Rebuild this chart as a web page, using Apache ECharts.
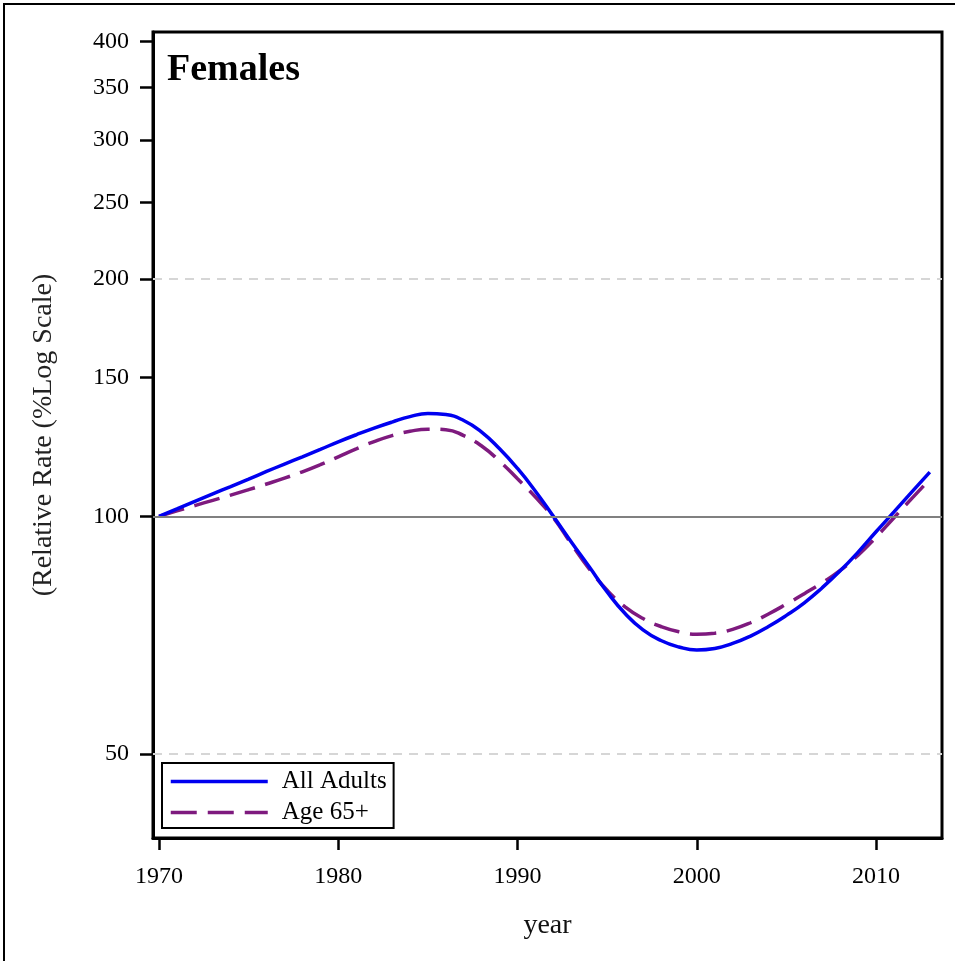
<!DOCTYPE html>
<html>
<head>
<meta charset="utf-8">
<script src="https://cdn.jsdelivr.net/npm/echarts@6/dist/echarts.min.js"></script>
<style>
html,body{margin:0;padding:0;background:#fff;}
#chart{width:955px;height:961px;}
</style>
</head>
<body>
<div id="chart"></div>
<script>
const years = [1970,1971,1972,1973,1974,1975,1976,1977,1978,1979,1980,1981,1982,1983,1984,1985,1986,1987,1988,1989,1990,1991,1992,1993,1994,1995,1996,1997,1998,1999,2000,2001,2002,2003,2004,2005,2006,2007,2008,2009,2010,2011,2012,2013];
const allAdults = [100,102.2,104.5,106.8,109.1,111.5,114.0,116.5,119.0,121.6,124.3,126.9,129.4,131.7,133.8,135.0,134.6,132.3,127.9,121.8,115.0,107.6,100.0,92.8,86.3,80.2,75.3,71.8,69.6,68.3,67.7,68.0,69.0,70.5,72.5,74.9,77.7,81.2,85.3,90.1,95.6,101.3,107.4,113.8];
const age65 = [100,101.6,103.2,104.8,106.4,108.1,109.9,111.8,113.9,116.3,119.0,121.8,124.4,126.6,128.2,129.0,128.8,126.6,122.8,117.5,111.6,105.8,99.6,92.3,85.8,80.6,76.8,74.2,72.5,71.4,70.9,71.1,71.9,73.3,75.2,77.4,79.8,82.4,85.4,89.3,94.1,99.6,105.4,111.4];
const xTicks = [1970,1980,1990,2000,2010];
const yTicks = [50,100,150,200,250,300,350,400];
const refSolid = [100];
const refDashed = [50,200];

const FONT = "'Liberation Serif','Times New Roman',serif";
const chart = echarts.init(document.getElementById('chart'));
chart.setOption({
  animation:false,
  backgroundColor:'#fff',
  graphic:[{type:'rect',shape:{x:4,y:4,width:970,height:980},style:{fill:'none',stroke:'#000',lineWidth:2},silent:true,z:100}],
  title:{text:'Females',left:167,top:51,padding:0,textStyle:{fontFamily:FONT,fontSize:38,fontWeight:'bold',color:'#000'}},
  grid:{left:153,right:13,top:32,bottom:123,show:true,borderColor:'#000',borderWidth:3,backgroundColor:'transparent'},
  legend:{orient:'vertical',left:162,top:763,padding:[6,7,3,7],itemGap:6,itemWidth:97,itemHeight:24,
    borderColor:'#000',borderWidth:2,backgroundColor:'#fff',
    itemStyle:{opacity:0,color:'rgba(0,0,0,0)',borderWidth:0},
    lineStyle:{width:3.5},
    textStyle:{fontFamily:FONT,fontSize:25,color:'#000',padding:[0,0,0,9]},
    data:['All Adults','Age 65+']},
  xAxis:{type:'value',min:1969.665,max:2013.68,name:'year',nameLocation:'middle',nameGap:74,
    nameTextStyle:{fontFamily:FONT,fontSize:28,color:'#111'},
    axisLine:{show:true,lineStyle:{color:'#000',width:3}},
    axisTick:{show:true,customValues:xTicks,length:12,lineStyle:{color:'#000',width:2.5}},
    axisLabel:{customValues:xTicks,margin:27,fontFamily:FONT,fontSize:24,color:'#000',formatter:v=>String(v)},
    splitLine:{show:false}},
  yAxis:{type:'log',logBase:10,min:39.1,max:411.3,name:'(Relative Rate (%Log Scale)',nameLocation:'middle',nameGap:95,
    nameTextStyle:{fontFamily:FONT,fontSize:28,color:'#222'},
    axisLine:{show:true,lineStyle:{color:'#000',width:3}},
    axisTick:{show:true,customValues:yTicks,length:13,lineStyle:{color:'#000',width:2.5}},
    axisLabel:{customValues:yTicks,margin:24,fontFamily:FONT,fontSize:24,color:'#000'},
    splitLine:{show:false}},
  series:[
    {type:'line',name:'ref',data:[],silent:true,z:1,
      markLine:{silent:true,symbol:'none',label:{show:false},
        data:[].concat(
          refSolid.map(v=>({yAxis:v,lineStyle:{color:'#808080',width:2,type:'solid'}})),
          refDashed.map(v=>({yAxis:v,lineStyle:{color:'#d6d6d6',width:2,type:[9,7]}}))
        )}},
    {type:'line',name:'All Adults',data:years.map((y,i)=>[y,allAdults[i]]),smooth:true,symbol:'none',showSymbol:false,z:3,
      lineStyle:{color:'#0000f0',width:3.5},itemStyle:{color:'#0000f0'}},
    {type:'line',name:'Age 65+',data:years.map((y,i)=>[y,age65[i]]),smooth:true,symbol:'none',showSymbol:false,z:2,
      lineStyle:{color:'#7e1a7e',width:3.5,type:[26,11]},itemStyle:{color:'#7e1a7e'}}
  ]
});
</script>
</body>
</html>
